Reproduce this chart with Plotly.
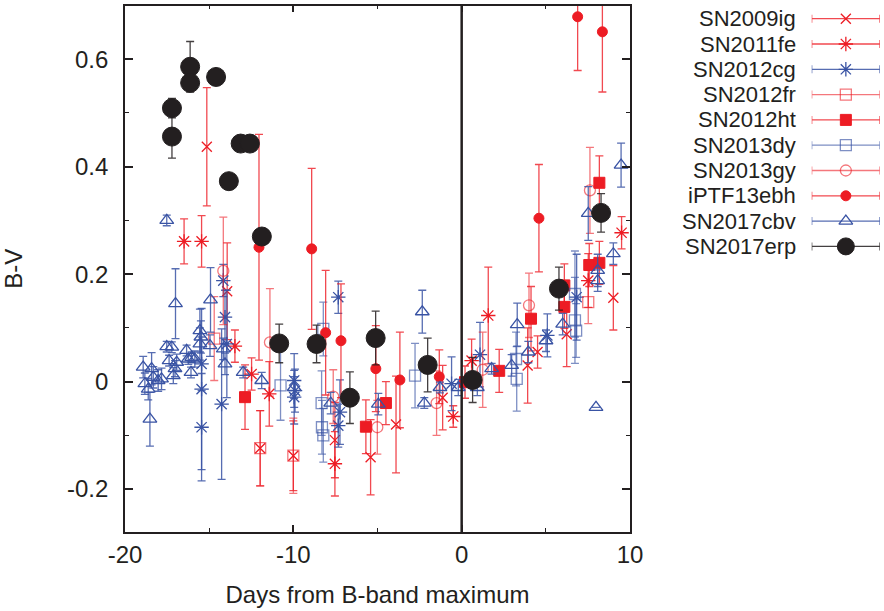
import plotly.graph_objects as go

# ---------------- data (days from B max, B-V, error) ----------------
sn2009ig_x = [-15.14, -13.93, -11.97, -10.0, -7.53, -5.41, -3.9, -1.13, 3.92, 4.51, 6.24, 9.01]
sn2009ig_y = [0.437, 0.168, -0.124, -0.138, -0.109, -0.141, -0.08, -0.03, 0.03, 0.055, 0.088, 0.156]
sn2009ig_e = [0.11, 0.09, 0.07, 0.065, 0.07, 0.07, 0.09, 0.06, 0.07, 0.03, 0.06, 0.06]

sn2011fe_x = [-16.49, -15.45, -13.47, -12.48, -11.43, -7.53, -0.5, 0.59, 1.58, 7.52, 9.5]
sn2011fe_y = [0.261, 0.261, 0.066, 0.014, -0.023, -0.153, -0.065, 0.039, 0.123, 0.188, 0.277]
sn2011fe_e = [0.042, 0.048, 0.03, 0.03, 0.06, 0.06, 0.02, 0.04, 0.09, 0.05, 0.03]

sn2012cg_x = [-15.45, -15.45, -15.45, -14.26, -14.16, -14.06, -13.95, -9.95, -9.95, -9.9,
              -7.33, -7.23, -7.33, -0.6, 1.09, 5.09, 6.83]
sn2012cg_y = [0.033, -0.014, -0.085, -0.042, 0.188, 0.12, 0.07, 0.002, -0.029, -0.017,
              0.157, -0.057, -0.082, -0.004, 0.05, 0.086, 0.157]
sn2012cg_e = [0.05, 0.15, 0.1, 0.14, 0.03, 0.05, 0.1, 0.05, 0.05, 0.04,
              0.03, 0.06, 0.04, 0.05, 0.06, 0.04, 0.08]

sn2012fr_x = [-14.7, -11.97, -10.0, 7.52]
sn2012fr_y = [0.08, -0.124, -0.138, 0.148]
sn2012fr_e = [0.078, 0.07, 0.07, 0.04]

sn2012ht_x = [-12.87, -5.69, -4.5, 0.2, 2.23, 4.12, 6.1, 6.1, 7.58, 8.18, 8.18]
sn2012ht_y = [-0.029, -0.084, -0.04, -0.001, 0.02, 0.117, 0.139, 0.179, 0.217, 0.221, 0.37]
sn2012ht_e = [0.06, 0.05, 0.04, 0.03, 0.04, 0.06, 0.04, 0.04, 0.04, 0.04, 0.05]

sn2013dy_x = [-10.76, -8.22, -8.32, -8.3, -8.22, -2.77, 3.23, 3.27, 6.73, 6.73, 6.8]
sn2013dy_y = [-0.007, 0.098, -0.04, -0.085, -0.1, 0.011, 0.042, 0.005, 0.114, 0.163, 0.095]
sn2013dy_e = [0.065, 0.05, 0.06, 0.05, 0.05, 0.06, 0.05, 0.06, 0.08, 0.08, 0.05]

sn2013gy_x = [-14.16, -11.39, -7.63, -5.01, -1.49, 1.25, 4.0, 7.62]
sn2013gy_y = [0.206, 0.073, -0.028, -0.085, -0.04, 0.022, 0.142, 0.356]
sn2013gy_e = [0.1, 0.1, 0.05, 0.05, 0.06, 0.07, 0.06, 0.08]

iptf13ebh_x = [-12.04, -8.91, -8.08, -7.17, -5.1, -3.67, -1.33, 4.59, 6.89, 8.36]
iptf13ebh_y = [0.25, 0.247, 0.091, 0.076, 0.024, 0.003, 0.009, 0.304, 0.679, 0.651]
iptf13ebh_e = [0.21, 0.15, 0.116, 0.106, 0.08, 0.089, 0.05, 0.1, 0.1, 0.112]

sn2017cbv_x = [-18.92, -18.82, -18.62, -18.42, -18.32, -18.03, -17.83, -18.52, -17.52, -17.52,
               -17.22, -17.38, -16.93, -17.03, -17.13, -17.0, -16.34, -16.24, -16.04, -15.85,
               -16.08, -15.55, -15.55, -15.49, -14.92, -14.95, -14.06, -14.16, -12.98, -11.88,
               -9.95, -7.78, -4.95, -2.34, -2.22, -1.29, -0.2, 0.93, 1.78, 2.97,
               3.3, 3.96, 5.01, 6.0, 7.52, 8.08, 8.08, 9.01, 7.98, 9.47]
sn2017cbv_y = [0.027, -0.004, -0.014, 0.024, 0.008, 0.002, 0.005, -0.07, 0.30, 0.065,
               0.064, 0.039, 0.036, 0.024, 0.011, 0.145, 0.058, 0.042, 0.045, 0.042,
               0.017, 0.095, 0.07, 0.083, 0.152, 0.067, 0.033, 0.061, 0.017, 0.002,
               -0.011, -0.04, -0.042, 0.13, -0.04, -0.011, -0.011, -0.011, 0.024, 0.03,
               0.106, 0.055, 0.076, 0.107, 0.313, 0.207, 0.188, 0.238, -0.048, 0.403]
sn2017cbv_e = [0.02, 0.02, 0.02, 0.03, 0.02, 0.02, 0.02, 0.05, 0.01, 0.01,
               0.01, 0.01, 0.015, 0.015, 0.015, 0.065, 0.01, 0.01, 0.01, 0.015,
               0.01, 0.04, 0.03, 0.03, 0.06, 0.02, 0.02, 0.02, 0.01, 0.015,
               0.02, 0.02, 0.02, 0.04, 0.01, 0.01, 0.015, 0.015, 0.01, 0.02,
               0.04, 0.02, 0.02, 0.02, 0.05, 0.03, 0.02, 0.02, 0.0, 0.041]

sn2017erp_x = [-17.21, -17.21, -16.13, -16.13, -14.59, -13.83, -13.13, -12.58, -11.87, -10.84,
               -8.62, -6.64, -5.11, -2.02, 0.65, 5.78, 8.28]
sn2017erp_y = [0.509, 0.456, 0.586, 0.556, 0.567, 0.373, 0.443, 0.443, 0.27, 0.071,
               0.07, -0.03, 0.081, 0.031, 0.003, 0.173, 0.314]
sn2017erp_e = [0.018, 0.04, 0.047, 0.01, 0.012, 0.01, 0.005, 0.005, 0.01, 0.036,
               0.035, 0.048, 0.05, 0.05, 0.042, 0.04, 0.036]

names = ["SN2009ig", "SN2011fe", "SN2012cg", "SN2012fr", "SN2012ht",
         "SN2013dy", "SN2013gy", "iPTF13ebh", "SN2017cbv", "SN2017erp"]

x_ticks = [-20, -10, 0, 10]
x_tick_text = ["-20", "-10", "0", "10"]
y_ticks = [-0.2, 0, 0.2, 0.4, 0.6]
y_tick_text = ["-0.2", "0", "0.2", "0.4", "0.6"]

RED = "rgb(237,28,36)"
RED_E = "rgba(237,28,36,0.8)"
LRED = "rgba(237,28,36,0.6)"
BLUE = "rgb(57,83,164)"
BLUE_E = "rgba(57,83,164,0.85)"
LBLUE = "rgba(57,83,164,0.65)"
BLK = "rgb(35,31,32)"
BLK_E = "rgba(35,31,32,0.85)"

series = [
    (sn2009ig_x, sn2009ig_y, sn2009ig_e, "x-thin-open", 10, RED, RED_E, 1.3),
    (sn2011fe_x, sn2011fe_y, sn2011fe_e, "asterisk-open", 12, RED, RED_E, 1.3),
    (sn2012cg_x, sn2012cg_y, sn2012cg_e, "asterisk-open", 12, BLUE, BLUE_E, 1.3),
    (sn2012fr_x, sn2012fr_y, sn2012fr_e, "square-open", 11, LRED, LRED, 1.3),
    (sn2012ht_x, sn2012ht_y, sn2012ht_e, "square", 11, RED, RED_E, 1.0),
    (sn2013dy_x, sn2013dy_y, sn2013dy_e, "square-open", 11, LBLUE, LBLUE, 1.3),
    (sn2013gy_x, sn2013gy_y, sn2013gy_e, "circle-open", 11, LRED, LRED, 1.3),
    (iptf13ebh_x, iptf13ebh_y, iptf13ebh_e, "circle", 10, RED, RED_E, 1.0),
    (sn2017cbv_x, sn2017cbv_y, sn2017cbv_e, "triangle-up-open", 12, BLUE, BLUE_E, 1.3),
    (sn2017erp_x, sn2017erp_y, sn2017erp_e, "circle", 19, BLK, BLK_E, 1.0),
]

fig = go.Figure()

for (xs, ys, es, sym, size, col, ecol, lw), nm in zip(series, names):
    fig.add_trace(go.Scatter(
        x=xs, y=ys, mode="markers", name=nm, showlegend=False,
        marker=dict(symbol=sym, size=size, color=col,
                    line=dict(color=col, width=lw)),
        error_y=dict(type="data", array=es, visible=True, color=ecol,
                     thickness=1.3, width=4),
        xaxis="x", yaxis="y",
    ))

# custom legend (gnuplot style: right-aligned names, errorbar sample on the right)
for i, ((xs, ys, es, sym, size, col, ecol, lw), nm) in enumerate(zip(series, names)):
    row = i + 1
    fig.add_trace(go.Scatter(
        x=[0.5], y=[row], mode="markers", showlegend=False, hoverinfo="skip",
        marker=dict(symbol=sym, size=size if size < 19 else 17, color=col,
                    line=dict(color=col, width=lw)),
        error_x=dict(type="data", array=[0.5], visible=True, color=ecol,
                     thickness=1.3, width=4),
        xaxis="x2", yaxis="y2",
    ))
    fig.add_annotation(x=797 / 884, xref="paper", y=row, yref="y2",
                       text=nm, showarrow=False, xanchor="right", yanchor="middle",
                       borderpad=0,
                       font=dict(family="Liberation Sans, Arial, sans-serif",
                                 size=22, color=BLK))

# vertical line at maximum
fig.add_shape(type="line", x0=0, x1=0, xref="x", y0=0, y1=1, yref="y domain",
              line=dict(color=BLK, width=2.5))

FONT = dict(family="Liberation Sans, Arial, sans-serif", size=24, color=BLK)
axcommon = dict(showgrid=False, zeroline=False, showline=True, linecolor=BLK,
                linewidth=1.8, mirror="ticks", ticks="inside", tickcolor=BLK,
                tickwidth=1.5, tickfont=FONT, automargin=False)

fig.update_layout(
    width=884, height=611,
    margin=dict(l=0, r=0, t=0, b=0, autoexpand=False),
    paper_bgcolor="white", plot_bgcolor="white",
    font=FONT,
    xaxis=dict(domain=[125 / 884, 630 / 884], range=[-20, 10],
               tickvals=x_ticks, ticktext=x_tick_text, ticklen=7,
               minor=dict(dtick=5, tick0=-20, ticklen=4, ticks="inside",
                          tickcolor=BLK, tickwidth=1.2),
               title=dict(text="Days from B-band maximum", font=FONT, standoff=19),
               ticklabelstandoff=0,
               **axcommon),
    yaxis=dict(domain=[(611 - 532) / 611, (611 - 5.5) / 611], range=[-0.28, 0.7],
               tickvals=y_ticks, ticktext=y_tick_text, ticklen=8,
               minor=dict(dtick=0.1, tick0=0, ticklen=4, ticks="inside",
                          tickcolor=BLK, tickwidth=1.2),
               title=dict(text="B-V", font=FONT, standoff=40),
               ticklabelstandoff=10,
               **axcommon),
    xaxis2=dict(domain=[811.7 / 884, 880 / 884], range=[0, 1], visible=False,
                anchor="y2"),
    yaxis2=dict(domain=[1 - 259.05 / 611, 1 - 6.05 / 611], range=[10.5, 0.5],
                visible=False, anchor="x2"),
)

fig.write_html("out.html")
